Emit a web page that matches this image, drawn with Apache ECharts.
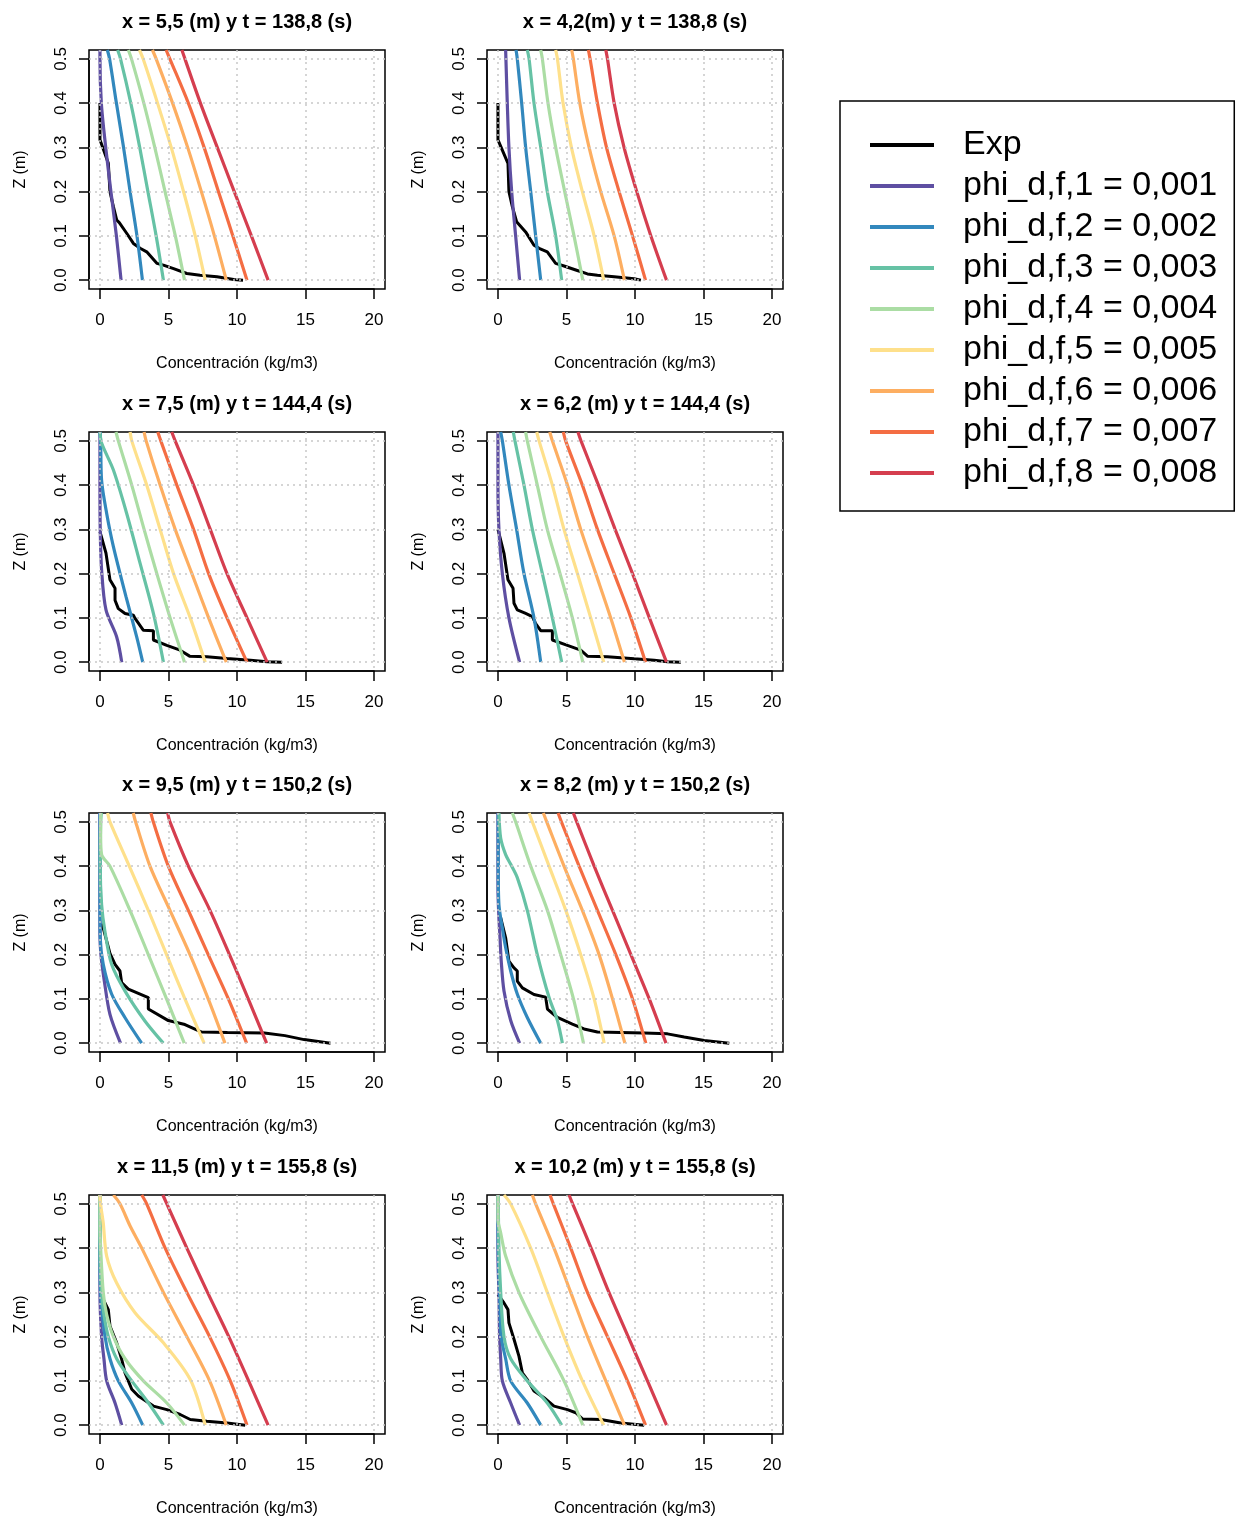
<!DOCTYPE html>
<html>
<head>
<meta charset="utf-8">
<script src="https://cdn.jsdelivr.net/npm/echarts@6/dist/echarts.min.js"></script>
<style>
html, body { margin: 0; padding: 0; background: #fff; }
#main { width: 1238px; height: 1520px; }
</style>
</head>
<body>
<div id="main"></div>
<script>
// titulos de cada panel
var titles = [
    'x = 5,5 (m) y t = 138,8 (s)', 'x = 4,2(m) y t = 138,8 (s)',
    'x = 7,5 (m) y t = 144,4 (s)', 'x = 6,2 (m) y t = 144,4 (s)',
    'x = 9,5 (m) y t = 150,2 (s)', 'x = 8,2 (m) y t = 150,2 (s)',
    'x = 11,5 (m) y t = 155,8 (s)', 'x = 10,2 (m) y t = 155,8 (s)'
];
var seriesNames = ['Exp', 'phi_d,f,1 = 0,001', 'phi_d,f,2 = 0,002', 'phi_d,f,3 = 0,003', 'phi_d,f,4 = 0,004',
    'phi_d,f,5 = 0,005', 'phi_d,f,6 = 0,006', 'phi_d,f,7 = 0,007', 'phi_d,f,8 = 0,008'];
var colors = ['#000000', '#5E4FA2', '#3288BD', '#66C2A5', '#ABDDA4', '#FEE08B', '#FDAE61', '#F46D43', '#D53E4F'];
var xTicks = [0, 5, 10, 15, 20];
var zTicks = [0, 0.1, 0.2, 0.3, 0.4, 0.5];

// datos experimentales [concentracion, z]
var exp1 = [[0,0.4],[0,0.317],[0.61,0.264],[0.73,0.2],[0.98,0.166],[1.22,0.136],[1.41,0.13],[1.95,0.106],[2.44,0.083],[2.93,0.072],[3.41,0.064],[4.15,0.038],[4.63,0.034],[5.37,0.026],[6.34,0.015],[7.3,0.011],[8.54,0.0075],[9.76,0.0015],[10.44,0]];
var exp2 = [[0,0.4],[0,0.317],[0.73,0.264],[0.8,0.2],[1.05,0.166],[1.36,0.132],[2.02,0.109],[2.63,0.079],[3.0,0.072],[3.6,0.064],[4.21,0.038],[4.82,0.032],[5.68,0.023],[6.53,0.014],[7.26,0.011],[8.48,0.0075],[9.94,0.003],[10.43,0]];
var exp3 = [[0,0.295],[0.44,0.246],[0.73,0.186],[1.1,0.167],[1.1,0.14],[1.34,0.121],[1.83,0.11],[2.44,0.106],[2.56,0.099],[3.17,0.072],[3.9,0.071],[3.9,0.05],[4.88,0.038],[5.85,0.027],[6.54,0.0136],[7.8,0.012],[9.27,0.0083],[10.98,0.0045],[12.2,0.001],[13.29,0]];
var exp4 = [[0,0.3],[0.44,0.246],[0.73,0.186],[1.1,0.167],[1.17,0.133],[1.41,0.118],[2.02,0.11],[2.51,0.103],[2.75,0.087],[3.12,0.071],[3.97,0.071],[3.97,0.05],[5.07,0.038],[6.04,0.027],[6.53,0.0136],[7.99,0.012],[9.94,0.0075],[11.4,0.0045],[12.37,0.001],[13.35,0]];
var exp5 = [[0.1,0.27],[0.24,0.26],[0.73,0.203],[1.1,0.178],[1.46,0.163],[1.58,0.137],[2.07,0.122],[3.53,0.103],[3.53,0.077],[4.99,0.051],[6.2,0.042],[7.42,0.025],[9.3,0.024],[12.0,0.023],[13.5,0.017],[14.9,0.008],[16.83,0]];
var exp6 = [[0.05,0.29],[0.2,0.283],[0.56,0.238],[0.8,0.185],[1.17,0.17],[1.41,0.163],[1.41,0.14],[1.78,0.125],[2.63,0.11],[3.48,0.104],[3.61,0.077],[4.34,0.058],[5.43,0.043],[6.28,0.032],[7.26,0.025],[10.67,0.023],[12.37,0.021],[13.59,0.014],[15.05,0.006],[16.88,0]];
var exp7 = [[0.24,0.284],[0.61,0.261],[0.73,0.224],[1.22,0.186],[1.59,0.148],[1.83,0.118],[2.32,0.081],[2.8,0.066],[3.9,0.043],[4.88,0.035],[5.85,0.024],[6.59,0.0128],[7.8,0.009],[9.27,0.005],[10.6,0]];
var exp8 = [[0,0.295],[0.44,0.276],[0.73,0.261],[0.8,0.231],[1.17,0.194],[1.53,0.156],[1.78,0.118],[2.14,0.103],[2.63,0.077],[3.36,0.062],[4.09,0.043],[5.07,0.035],[5.68,0.028],[6.16,0.014],[7.5,0.0128],[8.96,0.005],[10.67,0]];

// modelo, phi 1..8, [concentracion, z]
var mod1 = [
    [[1.54,0],[1.2,0.1],[0.8,0.2],[0.42,0.3],[0.1,0.4],[0,0.5],[0,0.52]],
    [[3.1,0],[2.7,0.1],[2.2,0.2],[1.72,0.3],[1.2,0.4],[0.7,0.5],[0.54,0.52]],
    [[4.63,0],[4.1,0.1],[3.5,0.2],[2.9,0.3],[2.25,0.4],[1.5,0.5],[1.29,0.52]],
    [[6.17,0],[5.5,0.1],[4.75,0.2],[4.0,0.3],[3.2,0.4],[2.3,0.5],[2.07,0.52]],
    [[7.68,0],[6.95,0.1],[6.1,0.2],[5.2,0.3],[4.2,0.4],[3.15,0.5],[2.88,0.52]],
    [[9.22,0],[8.35,0.1],[7.4,0.2],[6.4,0.3],[5.3,0.4],[4.1,0.5],[3.83,0.52]],
    [[10.73,0],[9.7,0.1],[8.65,0.2],[7.6,0.3],[6.45,0.4],[5.1,0.5],[4.83,0.52]],
    [[12.27,0],[11.05,0.1],[9.8,0.2],[8.56,0.3],[7.33,0.4],[6.2,0.5],[5.98,0.52]]
];
var mod2 = [
    [[1.58,0],[1.29,0.1],[1.0,0.2],[0.8,0.3],[0.68,0.4],[0.58,0.5],[0.56,0.52]],
    [[3.12,0],[2.75,0.1],[2.39,0.2],[2.02,0.3],[1.73,0.4],[1.41,0.5],[1.32,0.52]],
    [[4.65,0],[4.21,0.1],[3.6,0.2],[3.12,0.3],[2.63,0.4],[2.27,0.5],[2.14,0.52]],
    [[6.19,0],[5.55,0.1],[4.87,0.2],[4.21,0.3],[3.65,0.4],[3.24,0.5],[3.12,0.52]],
    [[7.72,0],[7.02,0.1],[6.16,0.2],[5.36,0.3],[4.75,0.4],[4.34,0.5],[4.21,0.52]],
    [[9.23,0],[8.48,0.1],[7.5,0.2],[6.65,0.3],[5.97,0.4],[5.5,0.5],[5.38,0.52]],
    [[10.77,0],[9.82,0.1],[8.84,0.2],[7.92,0.3],[7.26,0.4],[6.72,0.5],[6.6,0.52]],
    [[12.3,0],[11.16,0.1],[10.13,0.2],[9.2,0.3],[8.48,0.4],[7.99,0.5],[7.87,0.52]]
];
var mod3 = [
    [[1.59,0],[1.22,0.057],[0.44,0.118],[0.12,0.208],[0.02,0.3],[0,0.4],[0,0.52]],
    [[3.12,0],[2.68,0.057],[1.9,0.148],[0.98,0.261],[0.49,0.336],[0.12,0.41],[0.05,0.5],[0,0.52]],
    [[4.63,0],[3.9,0.11],[2.93,0.223],[1.95,0.336],[0.98,0.434],[0.12,0.495],[0,0.52]],
    [[6.17,0],[5.12,0.1],[4.15,0.2],[3.22,0.3],[2.32,0.4],[1.34,0.5],[1.17,0.52]],
    [[7.68,0],[6.59,0.1],[5.37,0.2],[4.39,0.3],[3.41,0.4],[2.32,0.5],[2.2,0.52]],
    [[9.22,0],[7.93,0.1],[6.71,0.2],[5.49,0.3],[4.39,0.4],[3.37,0.5],[3.22,0.52]],
    [[10.73,0],[9.27,0.1],[7.93,0.2],[6.83,0.3],[5.61,0.4],[4.44,0.5],[4.22,0.52]],
    [[12.2,0],[10.73,0.1],[9.27,0.2],[8.05,0.3],[6.83,0.4],[5.49,0.5],[5.24,0.52]]
];
var mod4 = [
    [[1.58,0],[0.8,0.1],[0.32,0.2],[0.07,0.3],[0,0.4],[0,0.52]],
    [[3.12,0],[2.63,0.1],[1.9,0.2],[1.36,0.3],[0.8,0.4],[0.32,0.5],[0.2,0.52]],
    [[4.65,0],[3.97,0.1],[3.24,0.2],[2.51,0.3],[1.9,0.4],[1.24,0.5],[1.12,0.52]],
    [[6.19,0],[5.43,0.1],[4.53,0.2],[3.6,0.3],[2.87,0.4],[2.14,0.5],[2.02,0.52]],
    [[7.72,0],[6.77,0.1],[5.8,0.2],[4.82,0.3],[3.97,0.4],[3.0,0.5],[2.83,0.52]],
    [[9.23,0],[8.23,0.1],[7.14,0.2],[6.04,0.3],[5.07,0.4],[3.97,0.5],[3.78,0.52]],
    [[10.77,0],[9.7,0.1],[8.48,0.2],[7.26,0.3],[6.16,0.4],[4.94,0.5],[4.77,0.52]],
    [[12.3,0],[11.05,0.1],[9.82,0.2],[8.55,0.3],[7.33,0.4],[6.06,0.5],[5.84,0.52]]
];
var mod5 = [
    [[1.5,0],[0.73,0.065],[0.32,0.14],[0.07,0.2],[0,0.25],[0,0.52]],
    [[3.04,0],[1.82,0.058],[0.85,0.111],[0.24,0.178],[0.02,0.238],[0,0.35],[0,0.52]],
    [[4.62,0],[3.28,0.05],[1.82,0.118],[0.85,0.178],[0.36,0.253],[0.12,0.313],[0.02,0.4],[0.05,0.5],[0.1,0.52]],
    [[6.15,0],[4.86,0.1],[3.53,0.2],[2.19,0.3],[0.73,0.4],[0.12,0.426],[0.05,0.47],[0.05,0.52]],
    [[7.6,0],[6.2,0.1],[4.86,0.2],[3.53,0.3],[2.14,0.4],[0.73,0.5],[0.56,0.52]],
    [[9.12,0],[7.9,0.1],[6.57,0.2],[5.11,0.3],[3.65,0.4],[2.6,0.5],[2.43,0.52]],
    [[10.7,0],[9.37,0.1],[7.9,0.2],[6.45,0.3],[4.99,0.4],[3.89,0.5],[3.72,0.52]],
    [[12.16,0],[10.82,0.1],[9.45,0.2],[8.03,0.3],[6.45,0.4],[5.11,0.5],[4.94,0.52]]
];
var mod6 = [
    [[1.58,0],[0.93,0.051],[0.44,0.118],[0.24,0.185],[0.15,0.238],[0.07,0.283],[0,0.35],[0,0.52]],
    [[3.12,0],[2.14,0.058],[1.41,0.111],[0.93,0.163],[0.56,0.216],[0.32,0.26],[0.07,0.313],[0.02,0.4],[0.02,0.52]],
    [[4.7,0],[4.34,0.051],[3.73,0.103],[2.87,0.2],[2.14,0.3],[1.41,0.374],[0.93,0.404],[0.56,0.426],[0.2,0.463],[0.07,0.52]],
    [[6.24,0],[5.51,0.1],[4.58,0.2],[3.61,0.3],[2.39,0.4],[1.29,0.5],[1.05,0.52]],
    [[7.75,0],[7.02,0.1],[6.04,0.2],[4.95,0.3],[3.73,0.4],[2.51,0.5],[2.27,0.52]],
    [[9.26,0],[8.36,0.1],[7.38,0.2],[6.16,0.3],[4.82,0.4],[3.56,0.5],[3.31,0.52]],
    [[10.79,0],[9.82,0.1],[8.6,0.2],[7.26,0.3],[5.92,0.4],[4.63,0.5],[4.39,0.52]],
    [[12.26,0],[11.04,0.1],[9.7,0.2],[8.36,0.3],[7.02,0.4],[5.75,0.5],[5.5,0.52]]
];
var mod7 = [
    [[1.59,0],[1.1,0.05],[0.49,0.1],[0.29,0.15],[0.12,0.2],[0,0.3],[0,0.52]],
    [[3.12,0],[2.32,0.05],[1.34,0.1],[0.73,0.15],[0.37,0.2],[0.05,0.3],[0,0.4],[0,0.52]],
    [[4.63,0],[3.54,0.05],[2.32,0.1],[1.22,0.15],[0.61,0.2],[0.29,0.25],[0.12,0.3],[0,0.4],[0,0.52]],
    [[6.17,0],[4.88,0.05],[3.17,0.1],[1.83,0.15],[0.98,0.2],[0.49,0.25],[0.24,0.3],[0.05,0.4],[0,0.45],[0,0.52]],
    [[7.68,0],[6.59,0.103],[4.63,0.186],[2.56,0.254],[1.22,0.321],[0.49,0.382],[0.24,0.457],[0,0.517],[0,0.52]],
    [[9.22,0],[8.0,0.1],[6.34,0.2],[4.63,0.3],[3.05,0.4],[2.2,0.45],[1.46,0.5],[0.98,0.52]],
    [[10.73,0],[9.51,0.1],[8.0,0.2],[6.34,0.3],[4.76,0.4],[3.41,0.5],[3.05,0.52]],
    [[12.27,0],[10.85,0.1],[9.4,0.2],[7.85,0.3],[6.34,0.4],[4.88,0.5],[4.59,0.52]]
];
var mod8 = [
    [[1.58,0],[0.93,0.05],[0.32,0.1],[0.2,0.15],[0.12,0.2],[0.07,0.3],[0,0.38],[0,0.52]],
    [[3.12,0],[2.14,0.05],[0.93,0.1],[0.56,0.15],[0.24,0.2],[0.12,0.3],[0.02,0.4],[0,0.52]],
    [[4.65,0],[3.6,0.05],[2.14,0.1],[0.93,0.15],[0.44,0.2],[0.2,0.3],[0.07,0.4],[0.02,0.52]],
    [[6.19,0],[4.82,0.1],[3.12,0.2],[1.53,0.3],[0.56,0.382],[0.2,0.434],[0,0.465],[0,0.52]],
    [[7.72,0],[6.16,0.1],[4.82,0.2],[3.6,0.3],[2.39,0.4],[0.93,0.5],[0.44,0.52]],
    [[9.23,0],[7.87,0.1],[6.53,0.2],[5.31,0.3],[4.09,0.4],[2.75,0.5],[2.51,0.52]],
    [[10.77,0],[9.45,0.1],[7.99,0.2],[6.53,0.3],[5.31,0.4],[4.04,0.5],[3.8,0.52]],
    [[12.3,0],[10.91,0.1],[9.5,0.2],[8.1,0.3],[6.8,0.4],[5.45,0.5],[5.19,0.52]]
];

var expAll = [exp1, exp2, exp3, exp4, exp5, exp6, exp7, exp8];
var modAll = [mod1, mod2, mod3, mod4, mod5, mod6, mod7, mod8];

// posicion de las cajas (px)
var boxLeft = [89, 487];
var boxTop = [50, 432, 813, 1195];
var boxW = 296, boxH = 239;
var xMin = -0.8, xMax = 20.8, zMin = -0.02, zMax = 0.52;
var font = 'Liberation Sans, Arial, sans-serif';

var chart = echarts.init(document.getElementById('main'));

var grid = [], xAxis = [], yAxis = [], title = [], series = [];

for (var i = 0; i < 8; i++) {
    var col = i % 2, row = Math.floor(i / 2);
    var L = boxLeft[col], T = boxTop[row];
    // caja completa (rango ampliado 4%)
    grid.push({
        left: L, top: T, width: boxW, height: boxH,
        show: true, borderColor: '#000', borderWidth: 1.5, backgroundColor: 'transparent'
    });
    // area de datos exacta, para los ejes al estilo R
    var dl = L + (0 - xMin) / (xMax - xMin) * boxW;
    var dw = (20 - 0) / (xMax - xMin) * boxW;
    var dt = T + (zMax - 0.5) / (zMax - zMin) * boxH;
    var dh = 0.5 / (zMax - zMin) * boxH;
    grid.push({ left: dl, top: dt, width: dw, height: dh, show: false });
    var offX = (T + boxH) - (dt + dh);   // eje x sobre el borde de la caja
    var offY = dl - L;                   // eje y sobre el borde de la caja

    var ga = 2 * i, gb = 2 * i + 1;
    xAxis.push({
        type: 'value', gridIndex: ga, min: xMin, max: xMax, z: 5,
        axisLine: { show: false }, axisLabel: { show: false },
        axisTick: { show: false, customValues: xTicks },
        splitLine: { show: true, lineStyle: { color: '#c8c8c8', width: 1.5, type: [2, 4] } }
    });
    xAxis.push({
        type: 'value', gridIndex: gb, min: 0, max: 20, interval: 5, position: 'bottom', offset: offX,
        axisLine: { show: true, onZero: false, lineStyle: { color: '#000', width: 1.5 } },
        axisTick: { show: true, length: 10, lineStyle: { color: '#000', width: 1.5 } },
        axisLabel: { color: '#000', fontSize: 17, fontFamily: font, margin: 23 },
        splitLine: { show: false },
        name: 'Concentración (kg/m3)', nameLocation: 'middle', nameGap: 67,
        nameTextStyle: { color: '#000', fontSize: 16, fontFamily: font }
    });
    yAxis.push({
        type: 'value', gridIndex: ga, min: zMin, max: zMax, z: 5,
        axisLine: { show: false }, axisLabel: { show: false },
        axisTick: { show: false, customValues: zTicks },
        splitLine: { show: true, lineStyle: { color: '#c8c8c8', width: 1.5, type: [2, 4] } }
    });
    yAxis.push({
        type: 'value', gridIndex: gb, min: 0, max: 0.5, interval: 0.1, position: 'left', offset: offY,
        axisLine: { show: true, onZero: false, lineStyle: { color: '#000', width: 1.5 } },
        axisTick: { show: true, length: 10, lineStyle: { color: '#000', width: 1.5 } },
        axisLabel: {
            color: '#000', fontSize: 17, fontFamily: font, margin: 19, rotate: 90,
            formatter: function (v) { return v.toFixed(1); }
        },
        splitLine: { show: false },
        name: 'Z (m)', nameLocation: 'middle', nameGap: 60,
        nameTextStyle: { color: '#000', fontSize: 16, fontFamily: font }
    });
    title.push({
        text: titles[i], left: L + boxW / 2 - 5, top: T - 43, textAlign: 'center',
        textStyle: { color: '#000', fontSize: 20, fontWeight: 'bold', fontFamily: font }
    });

    // experimental primero, luego las curvas del modelo
    series.push({
        name: seriesNames[0], type: 'line', xAxisIndex: ga, yAxisIndex: ga,
        data: expAll[i], showSymbol: false, clip: true, z: 2,
        lineStyle: { color: colors[0], width: 3 }, itemStyle: { color: colors[0] }
    });
    for (var k = 0; k < 8; k++) {
        series.push({
            name: seriesNames[k + 1], type: 'line', xAxisIndex: ga, yAxisIndex: ga,
            data: modAll[i][k], showSymbol: false, clip: true, z: 2, smooth: 0.3,
            lineStyle: { color: colors[k + 1], width: 3.2 }, itemStyle: { color: colors[k + 1] }
        });
    }
}

var option = {
    backgroundColor: '#fff',
    animation: false,
    title: title,
    grid: grid,
    xAxis: xAxis,
    yAxis: yAxis,
    legend: {
        data: seriesNames,
        orient: 'vertical', left: 840, top: 101,
        padding: [27, 17, 21, 30],
        itemGap: 7, itemWidth: 64, itemHeight: 4, icon: 'rect',
        borderColor: '#000', borderWidth: 1.5,
        selectedMode: false,
        textStyle: { color: '#000', fontSize: 34, lineHeight: 34, fontFamily: font, padding: [0, 0, 0, 24] }
    },
    series: series
};

chart.setOption(option);
</script>
</body>
</html>
